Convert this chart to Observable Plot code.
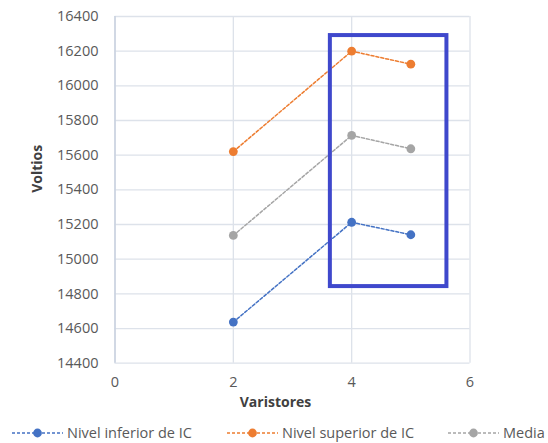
<!DOCTYPE html>
<html><head><meta charset="utf-8">
<script src="https://cdn.jsdelivr.net/npm/d3@7"></script>
<script src="https://cdn.jsdelivr.net/npm/@observablehq/plot@0.6"></script>
<style>
body{margin:0;background:#fff;font-family:"Open Sans",sans-serif;}
#wrap{position:relative;width:548px;height:443px;overflow:hidden;}
#legend{position:absolute;left:0;top:421px;}
</style></head><body><div id="wrap"></div>
<script>
const varistores = [2, 4, 5];
const inferior = [14637, 15213, 15141];
const superior = [15621, 16200, 16125];
const media = [15137, 15714, 15637];
const seriesNames = ["Nivel inferior de IC", "Nivel superior de IC", "Media"];
const seriesColors = ["#4472C4", "#ED7D31", "#A5A5A5"];
const xTicks = [0, 2, 4, 6];
const yTicks = [14400, 14600, 14800, 15000, 15200, 15400, 15600, 15800, 16000, 16200, 16400];
const boxX = [3.64, 5.61];
const boxY = [14842, 16290];

const seriesValues = [inferior, superior, media];
const data = [];
seriesValues.forEach((vals, i) => vals.forEach((v, j) => data.push({serie: seriesNames[i], x: varistores[j], y: v})));

const font = '"Open Sans", sans-serif';
const chart = Plot.plot({
  width: 548, height: 418,
  marginLeft: 114.5, marginRight: 78.5, marginTop: 16, marginBottom: 55.3,
  style: {fontFamily: font, fontSize: "14.5px", color: "#595959", background: "#fff"},
  x: {domain: [0, 6], ticks: xTicks},
  y: {domain: [14400, 16400], ticks: yTicks},
  color: {domain: seriesNames, range: seriesColors},
  marks: [
    Plot.gridX(xTicks, {stroke: "#dde2ea", strokeOpacity: 1, strokeWidth: 1.3}),
    Plot.gridY(yTicks, {stroke: "#dde2ea", strokeOpacity: 1, strokeWidth: 1.3}),
    Plot.ruleX([0], {stroke: "#c5cede", strokeWidth: 1.3}),
    Plot.axisX(xTicks, {tickSize: 0, tickPadding: 14, tickFormat: d => d, fill: "#595959", label: null}),
    Plot.axisY(yTicks, {tickSize: 0, tickPadding: 16.5, tickFormat: d => String(d), fill: "#595959", label: null}),
    Plot.line(data, {x: "x", y: "y", z: "serie", stroke: "serie", strokeWidth: 1.5, strokeDasharray: "3,2"}),
    Plot.dot(data, {x: "x", y: "y", fill: "serie", r: 4.4, stroke: null}),
    Plot.rect([{x1: boxX[0], x2: boxX[1], y1: boxY[0], y2: boxY[1]}], {x1: "x1", x2: "x2", y1: "y1", y2: "y2", fill: "none", stroke: "#3f48cc", strokeWidth: 4}),
    Plot.text(["Voltios"], {frameAnchor: "left", rotate: -90, dx: -77, dy: 3, fontWeight: "bold", fill: "#404040", fontSize: 14}),
    Plot.text(["Varistores"], {frameAnchor: "bottom", dx: -17, dy: 44, fontWeight: "bold", fill: "#404040", fontSize: 14})
  ]
});
const wrap = document.getElementById("wrap");
wrap.appendChild(chart);

// Legend
const legend = d3.select(wrap).append("svg").attr("id", "legend").attr("width", 548).attr("height", 22);
const itemX = [12, 227, 448];
seriesNames.forEach((name, i) => {
  const g = legend.append("g").attr("transform", `translate(${itemX[i]},12)`);
  g.append("line").attr("x1", 0).attr("x2", 51).attr("stroke", seriesColors[i]).attr("stroke-width", 1.5).attr("stroke-dasharray", "3,2");
  g.append("circle").attr("cx", 25.5).attr("r", 4.4).attr("fill", seriesColors[i]);
  g.append("text").attr("x", 55).attr("dy", "0.35em").attr("fill", "#595959").style("font-family", font).style("font-size", "14.5px").text(name);
});
</script></body></html>
